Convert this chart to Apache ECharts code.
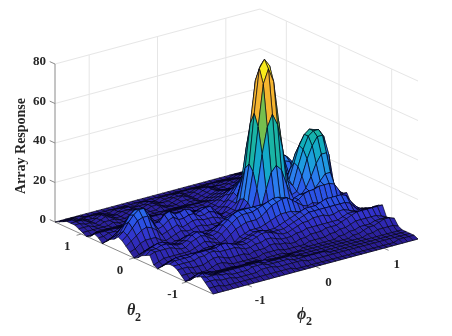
<!DOCTYPE html>
<html><head><meta charset="utf-8">
<style>html,body{margin:0;padding:0;background:#fff}#c{width:452px;height:336px}</style>
<script src="https://cdn.jsdelivr.net/npm/echarts@6/dist/echarts.min.js"></script>
</head><body><div id="c"></div>
<script>
// Angle extents and ticks
const phiRange = [-1.5, 1.5];
const thetaRange = [1.5, -1.5];
const phiTicks = [-1, 0, 1];
const thetaTicks = [1, 0, -1];
const zTicks = [0, 20, 40, 60, 80];
const zTitle = 'Array Response';
// Surface heights: rows run theta = +1.5 -> -1.5, columns phi = -1.5 -> +1.5
const zRows = [
[0,0,0,0,0,0,0,0,0,0,0,0,0,0,0,0,0,0,0,0,0,0,0,0,0,0,0,0,0,0,0,0,0,0,0,0,0,0,0,0,0],
[1,1,1,1,1,0,0,0,0,0,0,0,0,0,0,0,0,0,0,0,0,0,0,0,0,0,0,0,0,0,0,0,0,0,1,1,1,1,0,0,0],
[2,2,2,1,1,1,1,1,0,0,1,1,1,0,0,1,1,0,0,1,1,1,1,1,1,1,1,1,1,1,1,1,1,1,2,2,2,2,1,1,1],
[3,3,2,2,1,1,2,2,1,0,1,2,2,1,1,1,2,1,0,1,1,2,2,1,1,2,2,2,1,1,2,2,2,2,3,3,3,3,2,1,1],
[3,3,3,2,1,2,3,2,1,1,2,2,2,1,1,2,2,1,1,1,2,2,2,1,2,3,3,2,2,2,2,3,3,3,4,4,4,3,3,2,2],
[3,3,2,2,1,2,3,2,1,1,2,3,2,1,1,2,2,1,0,1,2,3,2,1,2,3,4,3,2,2,3,3,4,4,5,5,5,4,3,3,2],
[2,2,2,1,1,2,2,2,1,1,2,2,2,1,1,1,2,1,1,1,2,2,2,1,2,3,4,3,2,2,3,4,4,5,6,6,6,5,4,3,2],
[1,1,1,1,1,1,2,1,1,1,1,2,1,1,1,1,1,1,1,1,1,2,2,1,2,3,4,4,3,3,4,5,6,7,8,9,8,7,5,4,3],
[0,0,1,1,1,1,1,1,1,2,2,2,2,1,1,2,2,2,2,2,2,2,2,2,3,4,5,5,4,4,5,7,8,10,11,12,11,9,7,5,4],
[1,2,2,2,2,2,2,2,3,3,3,3,3,3,2,3,3,3,3,3,3,3,3,3,4,5,6,6,5,5,7,9,11,13,15,15,14,11,9,6,5],
[3,3,3,3,3,3,3,3,4,4,4,4,4,4,3,4,4,4,4,3,3,3,4,4,5,6,7,7,6,6,9,11,14,16,18,18,16,13,10,7,5],
[2,2,3,3,4,4,3,3,3,3,3,3,3,3,3,3,3,3,3,2,2,3,4,5,6,8,9,9,8,8,11,14,16,19,20,20,18,15,11,8,6],
[0,1,2,4,6,7,6,4,3,2,2,3,4,4,3,2,3,4,4,3,3,3,4,6,8,10,12,12,11,11,13,16,19,21,22,21,19,15,11,8,6],
[2,3,5,7,9,10,9,6,4,4,4,5,6,6,4,3,4,5,5,4,3,3,4,6,9,12,15,15,13,12,14,17,20,22,22,21,18,14,10,7,5],
[4,5,8,11,14,14,12,8,5,6,7,8,8,8,6,5,6,7,7,5,4,3,5,8,11,15,19,20,16,13,14,16,18,19,20,19,16,13,9,7,6],
[5,7,11,15,17,17,14,9,7,9,11,11,10,10,8,7,8,9,9,6,4,3,6,8,10,18,26,29,26,18,10,11,12,13,15,15,14,12,10,8,7],
[7,9,13,16,18,18,14,9,9,12,13,11,11,12,11,8,9,10,10,7,4,5,6,8,18,35,48,54,48,35,18,8,9,10,12,13,13,12,10,8,6],
[6,8,11,14,15,15,11,7,8,10,11,9,9,10,10,8,8,9,8,6,4,5,6,11,26,48,69,76,69,48,26,12,16,20,24,26,26,22,14,9,8],
[4,6,8,10,11,10,8,5,6,7,8,6,7,8,8,7,7,7,6,5,4,5,7,12,29,54,76,80,76,54,29,14,21,28,33,35,35,31,20,11,9],
[2,3,5,6,6,6,4,3,4,5,6,5,5,6,6,5,5,5,5,4,5,6,8,11,26,48,69,76,69,48,26,17,25,33,38,40,39,30,16,8,7],
[0,1,2,3,3,3,2,2,3,3,4,4,4,4,4,4,5,5,6,6,7,8,8,8,18,35,48,54,48,35,18,15,24,32,38,40,40,36,26,10,6],
[1,3,4,5,5,4,3,3,4,5,5,5,5,4,5,6,7,8,9,10,10,10,9,7,9,18,26,29,26,18,12,13,20,28,34,38,38,14,8,7,6],
[3,5,6,7,7,6,5,4,5,7,8,7,6,5,6,8,10,11,12,13,13,12,11,10,8,8,11,13,11,10,9,12,15,20,26,30,30,12,8,7,7],
[4,6,6,7,7,6,5,5,6,8,9,8,6,5,6,9,11,13,14,14,14,14,14,14,13,11,9,8,10,13,14,14,14,15,18,21,21,12,8,6,3],
[5,6,6,6,6,5,4,4,6,7,8,7,5,4,6,8,10,12,13,13,13,14,15,16,17,17,16,14,12,13,15,16,16,17,17,17,16,12,8,3,1],
[1,2,3,3,3,3,3,3,4,5,6,5,4,3,4,6,8,9,10,10,10,11,13,15,16,17,17,15,13,11,10,11,10,10,10,10,9,7,5,3,2],
[0,1,2,2,2,2,2,2,3,4,4,4,2,2,2,3,5,6,7,7,7,8,9,10,11,11,11,10,9,8,7,8,7,7,8,8,7,5,4,3,3],
[2,3,4,4,4,4,4,4,4,4,5,5,4,3,3,4,5,6,7,7,6,6,6,7,8,9,10,11,12,12,12,13,14,14,14,14,13,9,6,4,4],
[4,5,6,6,6,6,6,6,6,6,7,7,6,5,5,5,6,7,8,8,7,6,6,6,7,8,9,10,11,11,11,11,11,11,11,11,10,7,5,5,5],
[5,6,6,6,6,7,7,7,7,7,8,8,7,6,5,5,6,7,8,8,7,6,5,5,6,7,8,8,9,9,9,8,8,9,9,8,7,6,5,6,6],
[5,5,5,5,5,6,6,7,7,6,6,6,6,5,4,4,5,5,6,6,5,4,4,4,5,5,6,6,6,6,6,6,6,7,8,8,7,7,7,8,8],
[4,4,4,3,3,3,4,5,5,4,3,3,3,3,2,3,3,3,4,4,3,3,2,2,3,3,4,4,4,5,5,5,6,7,8,9,9,9,9,9,9],
[2,2,2,1,1,1,2,3,3,2,1,1,1,1,1,1,2,2,2,2,1,1,1,1,1,2,2,2,2,3,3,4,4,5,6,6,6,6,6,5,4],
[0,0,1,1,1,1,1,1,1,1,0,0,1,1,1,0,1,1,1,1,0,0,0,1,1,1,1,1,1,1,2,2,3,3,4,4,4,5,5,5,4],
[2,3,3,3,3,2,2,2,2,2,2,2,2,2,1,1,1,1,1,1,1,1,1,1,1,1,1,1,1,1,1,1,2,2,3,4,4,5,6,6,5],
[4,5,5,4,3,3,3,3,3,3,3,3,3,3,3,2,2,2,2,2,1,1,1,1,1,1,1,1,1,1,1,1,1,1,2,2,3,3,3,3,2],
[5,6,5,4,4,4,4,4,4,4,4,4,4,3,3,3,3,3,3,2,2,1,1,1,1,1,1,1,1,1,1,1,1,1,1,1,1,1,1,1,1],
[6,5,5,5,4,4,3,3,3,3,4,4,4,3,3,3,3,3,2,2,2,2,2,2,2,1,1,1,1,1,1,1,1,1,1,1,1,1,1,1,1],
[4,4,4,3,3,3,2,2,2,2,2,3,3,3,2,2,2,2,2,2,1,1,1,1,1,1,1,1,1,1,1,1,1,1,1,1,1,1,1,1,1],
[2,2,2,1,1,1,1,1,1,1,1,1,1,1,1,1,1,0,0,0,0,0,0,0,0,0,0,0,0,0,0,0,0,0,0,0,0,1,1,1,1],
[0,0,0,0,0,0,0,0,0,0,0,0,0,0,0,0,0,0,0,0,0,0,0,0,0,0,0,0,0,0,0,0,0,0,0,0,0,0,0,0,0]
];
const parula = ['#2a1c90','#3230c8','#2a58ea','#2a86ee','#18a5d8','#10aeb8','#22b994','#6fc050','#e0b530','#fdb52e','#f9d524','#f9fb15'];

// Oblique view of the box: front corner, edge vectors and height scale
const F = [213, 294], PHI = [205, -55], THETA = [-158, -72], ZS = 1.975, ZTOP = 78;
function project(phi, theta, z) {
  const a = (phi + 1.5) / 3, b = (theta + 1.5) / 3;
  return [F[0] + a * PHI[0] + b * THETA[0], F[1] + a * PHI[1] + b * THETA[1] - z * ZS];
}
function colorOf(z) {
  const t = Math.max(0, Math.min(1, z / ZTOP)) * (parula.length - 1);
  const k = Math.min(parula.length - 2, Math.floor(t)), f = t - k;
  const p = s => [1, 3, 5].map(n => parseInt(s.substr(n, 2), 16));
  const A = p(parula[k]), B = p(parula[k + 1]);
  return 'rgb(' + A.map((v, n) => Math.round(v + (B[n] - v) * f)).join(',') + ')';
}
const nT = zRows.length, nP = zRows[0].length;
const phiAt = i => phiRange[0] + (phiRange[1] - phiRange[0]) * i / (nP - 1);
const thetaAt = t => thetaRange[0] + (thetaRange[1] - thetaRange[0]) * t / (nT - 1);
const cells = [];
for (let t = 0; t < nT - 1; t++) for (let i = nP - 2; i >= 0; i--) cells.push([i, t]);

// Segments of walls, axes and ticks
const wall = [], axisLines = [];
zTicks.forEach(z => {
  wall.push([-1.5, 1.5, z, 1.5, 1.5, z]);
  wall.push([1.5, 1.5, z, 1.5, -1.5, z]);
});
phiTicks.forEach(p => { wall.push([p, 1.5, 0, p, 1.5, 80]); });
thetaTicks.forEach(t => { wall.push([1.5, t, 0, 1.5, t, 80]); });
axisLines.push([-1.5, 1.5, 0, -1.5, 1.5, 80], [-1.5, 1.5, 0, -1.5, -1.5, 0], [-1.5, -1.5, 0, 1.5, -1.5, 0]);
zTicks.forEach(z => axisLines.push([-1.5, 1.5, z, -1.5, 1.6, z]));
thetaTicks.forEach(t => axisLines.push([-1.5, t, 0, -1.57, t, 0]));
phiTicks.forEach(p => axisLines.push([p, -1.5, 0, p, -1.59, 0]));

const serif = '"Liberation Serif","Times New Roman",serif';
const labels = [];
zTicks.forEach(z => { const q = project(-1.5, 1.5, z); labels.push({x: q[0] - 9, y: q[1] - 2, t: String(z), a: 'right'}); });
thetaTicks.forEach(v => { const q = project(-1.5, v, 0); labels.push({x: q[0] - 14, y: q[1] + 13, t: String(v), a: 'center'}); });
phiTicks.forEach(v => { const q = project(v, -1.5, 0); labels.push({x: q[0] + 13, y: q[1] + 16, t: String(v), a: 'center'}); });

function segSeries(data, color, w, z) {
  return {
    type: 'custom', coordinateSystem: 'cartesian2d', silent: true, clip: false, z: z, animation: false,
    data: data,
    renderItem: (p, api) => {
      const d = data[p.dataIndex];
      const A = api.coord(project(d[0], d[1], d[2])), B = api.coord(project(d[3], d[4], d[5]));
      return {type: 'line', shape: {x1: A[0], y1: A[1], x2: B[0], y2: B[1]}, style: {stroke: color, lineWidth: w}};
    }
  };
}
const chart = echarts.init(document.getElementById('c'), null, {width: 452, height: 336});
chart.setOption({
  animation: false,
  backgroundColor: '#fff',
  grid: {left: 0, right: 0, top: 0, bottom: 0},
  xAxis: {type: 'value', min: 0, max: 452, show: false},
  yAxis: {type: 'value', min: 0, max: 336, inverse: true, show: false},
  series: [
    segSeries(wall, '#e6e6e6', 1, 1),
    segSeries(axisLines, '#8a8a8a', 1, 2),
    {
      type: 'custom', coordinateSystem: 'cartesian2d', silent: true, clip: false, z: 3, animation: false,
      progressive: 0, data: cells,
      renderItem: (p, api) => {
        const i = api.value(0), t = api.value(1);
        const c = [[i, t], [i + 1, t], [i + 1, t + 1], [i, t + 1]];
        let s = 0;
        const pts = c.map(q => { const z = zRows[q[1]][q[0]]; s += z; return api.coord(project(phiAt(q[0]), thetaAt(q[1]), z)); });
        return {type: 'polygon', shape: {points: pts}, style: {fill: colorOf(s / 4), stroke: 'rgba(0,0,15,0.85)', lineWidth: 0.75}};
      }
    },
    {
      type: 'custom', coordinateSystem: 'cartesian2d', silent: false, clip: false, z: 4, animation: false,
      data: labels.map((l, n) => [n]),
      renderItem: (p, api) => {
        const l = labels[p.dataIndex], q = api.coord([l.x, l.y]);
        return {type: 'text', x: q[0], y: q[1], style: {text: l.t, textAlign: l.a, textVerticalAlign: 'middle', font: 'bold 13px ' + serif, fill: '#262626'}};
      }
    }
  ],
  graphic: [
    {type: 'text', x: 21, y: 146, rotation: Math.PI / 2, style: {text: zTitle, textAlign: 'center', textVerticalAlign: 'middle', font: 'bold 14px ' + serif, fill: '#262626'}},
    {type: 'text', x: 127, y: 311, style: {text: 'θ', textVerticalAlign: 'middle', font: 'italic bold 16px ' + serif, fill: '#262626'}},
    {type: 'text', x: 135, y: 318, style: {text: '2', textVerticalAlign: 'middle', font: 'bold 12px ' + serif, fill: '#262626'}},
    {type: 'text', x: 297, y: 315, style: {text: 'ϕ', textVerticalAlign: 'middle', font: 'italic bold 16px ' + serif, fill: '#262626'}},
    {type: 'text', x: 306, y: 322, style: {text: '2', textVerticalAlign: 'middle', font: 'bold 12px ' + serif, fill: '#262626'}}
  ]
});
</script></body></html>
